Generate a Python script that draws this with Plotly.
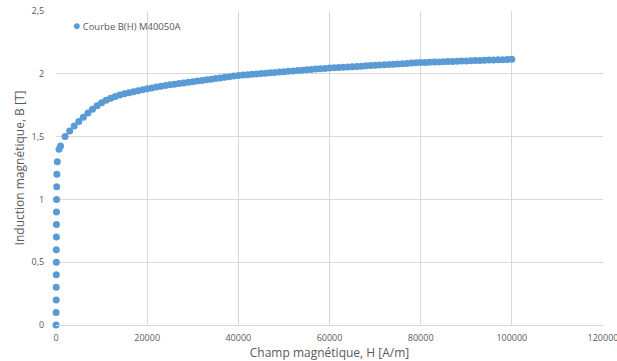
import plotly.graph_objects as go

# Courbe B(H) de la tôle M400-50A
champ_H = [
    0, 30, 45, 55, 62, 70, 78, 87, 97, 110, 128, 155, 200, 290,
    660, 1000, 2000, 3000, 4000, 5000, 6000, 7000, 8000, 9000, 10000,
    11000, 12000, 13000, 14000, 15000, 16000, 17000, 18000, 19000, 20000,
    21000, 22000, 23000, 24000, 25000, 26000, 27000, 28000, 29000, 30000,
    31000, 32000, 33000, 34000, 35000, 36000, 37000, 38000, 39000, 40000,
    41000, 42000, 43000, 44000, 45000, 46000, 47000, 48000, 49000, 50000,
    51000, 52000, 53000, 54000, 55000, 56000, 57000, 58000, 59000, 60000,
    61000, 62000, 63000, 64000, 65000, 66000, 67000, 68000, 69000, 70000,
    71000, 72000, 73000, 74000, 75000, 76000, 77000, 78000, 79000, 80000,
    81000, 82000, 83000, 84000, 85000, 86000, 87000, 88000, 89000, 90000,
    91000, 92000, 93000, 94000, 95000, 96000, 97000, 98000, 99000, 100000,
]
induction_B = [
    0.0, 0.1, 0.2, 0.3, 0.4, 0.5, 0.6, 0.7, 0.8, 0.9, 1.0, 1.1, 1.2, 1.3,
    1.40, 1.425, 1.50, 1.545, 1.585, 1.62, 1.655, 1.687, 1.717, 1.745, 1.77,
    1.789, 1.805, 1.819, 1.831, 1.841, 1.850, 1.858, 1.866, 1.873, 1.880,
    1.887, 1.894, 1.900, 1.906, 1.912, 1.917, 1.922, 1.927, 1.932, 1.937,
    1.942, 1.947, 1.952, 1.957, 1.962, 1.967, 1.972, 1.977, 1.982, 1.987,
    1.990, 1.993, 1.996, 1.999, 2.002, 2.005, 2.008, 2.011, 2.014, 2.017,
    2.020, 2.023, 2.026, 2.029, 2.032, 2.035, 2.038, 2.040, 2.043, 2.046,
    2.048, 2.050, 2.053, 2.055, 2.057, 2.059, 2.061, 2.064, 2.066, 2.068,
    2.070, 2.072, 2.074, 2.077, 2.079, 2.081, 2.083, 2.085, 2.087, 2.089,
    2.090, 2.092, 2.093, 2.094, 2.096, 2.097, 2.098, 2.100, 2.101, 2.102,
    2.104, 2.105, 2.106, 2.107, 2.109, 2.110, 2.111, 2.112, 2.114, 2.115,
]
nom_serie = "Courbe B(H) M40050A"

bleu = "#5B9BD5"
gris_texte = "#595959"
gris_grille = "#D9D9D9"
police = "Open Sans, Lato, sans-serif"
invisible = "rgba(0,0,0,0)"

fig = go.Figure(
    go.Scatter(
        x=champ_H,
        y=induction_B,
        mode="markers",
        name=nom_serie,
        marker=dict(color=bleu, size=7, line=dict(width=0)),
        cliponaxis=False,
        showlegend=False,
    )
)

# Légende compacte : pastille de couleur + nom de la série
fig.add_annotation(
    xref="paper", yref="paper", x=0.027, y=0.953,
    xanchor="left", yanchor="middle", showarrow=False,
    text=f"<span style='color:{bleu};font-size:12px'>●</span> {nom_serie}",
    font=dict(family=police, size=9.5, color=gris_texte),
)

fig.update_layout(
    width=617,
    height=361,
    margin=dict(l=56, r=14, t=11, b=36),
    paper_bgcolor="white",
    plot_bgcolor="white",
    separators=", ",
    font=dict(family=police, size=9, color=gris_texte),
    xaxis=dict(
        range=[0, 120000],
        tickvals=[0, 20000, 40000, 60000, 80000, 100000, 120000],
        tickformat="d",
        ticklabeloverflow="allow",
        automargin=False,
        showgrid=True, gridcolor=gris_grille, gridwidth=1,
        zeroline=False,
        showline=True, linecolor=gris_grille, linewidth=1,
        ticks="outside", ticklen=4, tickcolor=invisible,
        tickfont=dict(size=9, color=gris_texte),
        title=dict(text="Champ magnétique, H [A/m]",
                   font=dict(size=12, color=gris_texte), standoff=3),
    ),
    yaxis=dict(
        range=[0, 2.5],
        tickvals=[0, 0.5, 1, 1.5, 2, 2.5],
        automargin=False,
        showgrid=True, gridcolor=gris_grille, gridwidth=1,
        zeroline=False,
        showline=False,
        ticks="outside", ticklen=9, tickcolor=invisible,
        tickfont=dict(size=9, color=gris_texte),
        title=dict(text="Induction magnétique, B [T]",
                   font=dict(size=12, color=gris_texte), standoff=4),
    ),
)

fig.write_html("out.html")
